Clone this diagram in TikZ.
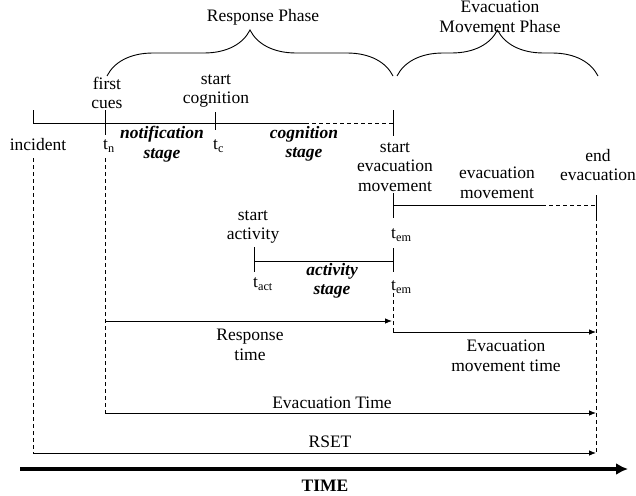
\documentclass[tikz,border=0pt]{standalone}
\usepackage{fontspec}
\setmainfont{Liberation Serif}
\usetikzlibrary{arrows.meta,decorations.pathreplacing}

\begin{document}
\begin{tikzpicture}[
  x=1pt,
  y=-1pt,
  font=\fontsize{17.5}{19.5}\selectfont,
  >={Latex[length=7pt,width=5.5pt]},
  tline/.style={line width=0.8pt},
  guide/.style={dash pattern=on 4pt off 3pt, line width=0.7pt},
  span/.style={->, line width=0.8pt},
  lbl/.style={align=center, inner sep=0pt},
  stagelbl/.style={lbl, font=\fontsize{17.5}{19.5}\selectfont\bfseries\itshape},
  tlbl/.style={anchor=west, inner sep=0pt},
  phase/.style={decorate, decoration={brace, amplitude=46pt}, line width=0.9pt}
]
\useasboundingbox (0,0) rectangle (636,495);

\coordinate (inc) at (33,123);
\coordinate (tn) at (105,123);
\coordinate (tc) at (215,123);
\coordinate (cogsolid) at (305,123);
\coordinate (tem) at (393,123);
\coordinate (emstart) at (393,205);
\coordinate (emsolid) at (542,205);
\coordinate (emend) at (596,205);
\coordinate (actstart) at (254,261);
\coordinate (actend) at (393,261);
\coordinate (rtstart) at (105,321);
\coordinate (rtend) at (392,321);
\coordinate (emtstart) at (393,332);
\coordinate (emtend) at (596,332);
\coordinate (etstart) at (105,413);
\coordinate (etend) at (596,413);
\coordinate (rsetstart) at (33,453);
\coordinate (rsetend) at (596,453);
\coordinate (timestart) at (20,469);
\coordinate (timeend) at (628,469);

\coordinate (incdrop) at (33,158);
\coordinate (tndrop) at (105,158);
\coordinate (actdrop) at (393,293);
\coordinate (enddrop) at (596,217);

\coordinate (respL) at (107,76);
\coordinate (respR) at (393,76);
\coordinate (evacL) at (397,76);
\coordinate (evacR) at (598,76);

\node[lbl] (resphase) at (263,17) {Response Phase};
\node[lbl] (evacphase) at (500,17) {Evacuation\\Movement Phase};
\draw[phase] (respL) -- (respR);
\draw[phase] (evacL) -- (evacR);

\draw[tline] (inc) -- (cogsolid);
\draw[tline, guide] (cogsolid) -- (tem);
\draw[tline] (inc) -- ++(0,-13);
\draw[tline] (tn) ++(0,-13) -- ++(0,25);
\draw[tline] (tc) ++(0,-11) -- ++(0,18);
\draw[tline] (tem) ++(0,-13) -- ++(0,26);

\node[lbl] (firstcues) at (107,93) {first\\cues};
\node[lbl] (startcog) at (216,91) {start\\cognition};
\node[lbl] (incident) at (38,145) {incident};
\node[tlbl] (tnlbl) at (103,146) {t\textsubscript{n}};
\node[stagelbl] (notif) at (162,144) {notification\\stage};
\node[tlbl] (tclbl) at (213,146) {t\textsubscript{c}};
\node[stagelbl] (cog) at (304,144) {cognition\\stage};
\node[lbl] (startevac) at (395,167) {start\\evacuation\\movement};
\node[lbl] (evacmove) at (497,183) {evacuation\\movement};
\node[lbl] (endevac) at (598,165) {end\\evacuation};

\draw[tline] (emstart) -- (emsolid);
\draw[tline, guide] (emsolid) -- (emend);
\draw[tline] (emstart) ++(0,-12) -- ++(0,25);
\draw[tline] (emend) ++(0,-10) -- ++(0,22);
\node[tlbl] (tem1) at (391,235) {t\textsubscript{em}};

\node[lbl] (startact) at (253,227) {start\\activity};
\draw[tline] (actstart) -- (actend);
\draw[tline] (actstart) ++(0,-14) -- ++(0,25);
\draw[tline] (actend) ++(0,-13) -- ++(0,24);
\node[tlbl] (tactlbl) at (253,284) {t\textsubscript{act}};
\node[stagelbl] (act) at (332,281) {activity\\stage};
\node[tlbl] (tem2) at (391,287) {t\textsubscript{em}};

\draw[guide] (incdrop) -- (rsetstart);
\draw[guide] (tndrop) -- (etstart);
\draw[guide] (actdrop) -- (emtstart);
\draw[guide] (enddrop) -- (rsetend);

\draw[span] (rtstart) -- (rtend);
\node[lbl] (resptime) at (250,345) {Response\\time};
\draw[span] (emtstart) -- (emtend);
\node[lbl] (emtime) at (506,356) {Evacuation\\movement time};
\draw[span] (etstart) -- (etend);
\node[lbl] (evactime) at (332,403) {Evacuation Time};
\draw[span] (rsetstart) -- (rsetend);
\node[lbl] (rset) at (330,442) {RSET};

\draw[-{Latex[length=12pt,width=12pt]}, line width=3.5pt] (timestart) -- (timeend);
\node[lbl, font=\fontsize{17.5}{19.5}\selectfont\bfseries] (time) at (325,486) {TIME};

\end{tikzpicture}
\end{document}
